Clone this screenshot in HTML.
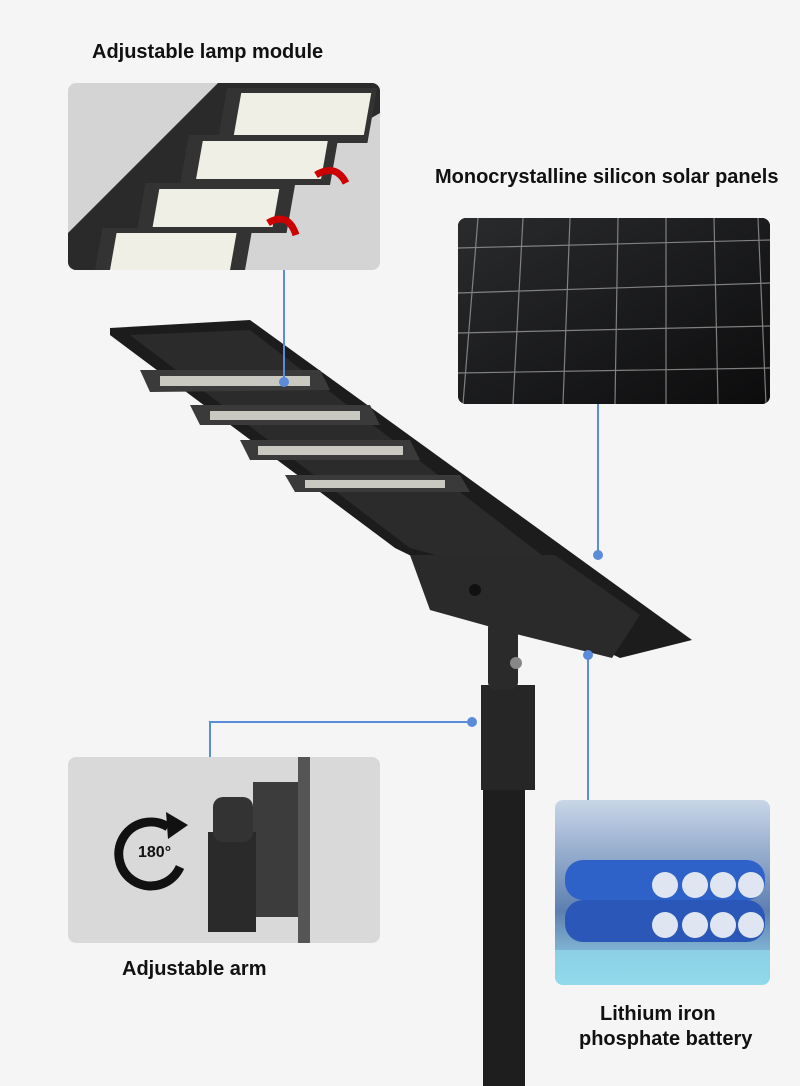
<!DOCTYPE html>
<html><head><meta charset="utf-8"><style>
body{margin:0;width:800px;height:1086px;background:#f5f5f5;overflow:hidden;position:relative;font-family:"Liberation Sans",sans-serif}
.t{position:absolute;font-weight:bold;font-size:20px;color:#111;white-space:nowrap}
.box{position:absolute;border-radius:8px;overflow:hidden}
</style></head><body>
<div class="t" style="left:92px;top:41px">Adjustable lamp module</div>
<div class="t" style="left:435px;top:166px">Monocrystalline silicon solar panels</div>
<div class="t" style="left:122px;top:958px">Adjustable arm</div>
<div class="t" style="left:600px;top:1003px">Lithium iron</div>
<div class="t" style="left:579px;top:1028px">phosphate battery</div>

<!-- lamp module inset -->
<div class="box" style="left:68px;top:83px;width:312px;height:187px;background:#d4d4d4">
<svg width="312" height="187">
<polygon points="0,150 150,0 312,0 312,30 40,187 0,187" fill="#2a2a2a"/>
<g fill="#333">
<rect x="160" y="5" width="150" height="55" transform="skewX(-10)"/>
<rect x="130" y="52" width="150" height="50" transform="skewX(-10)"/>
<rect x="95" y="100" width="150" height="50" transform="skewX(-10)"/>
<rect x="60" y="145" width="150" height="45" transform="skewX(-10)"/>
</g>
<g fill="#f0efe6">
<rect x="175" y="10" width="130" height="42" transform="skewX(-10)"/>
<rect x="145" y="58" width="125" height="38" transform="skewX(-10)"/>
<rect x="110" y="106" width="120" height="38" transform="skewX(-10)"/>
<rect x="75" y="150" width="120" height="37" transform="skewX(-10)"/>
</g>
<path d="M248 92 q20 -12 30 8" stroke="#c00" stroke-width="7" fill="none"/>
<path d="M200 140 q20 -12 28 12" stroke="#c00" stroke-width="7" fill="none"/>
</svg></div>

<!-- solar inset -->
<div class="box" style="left:458px;top:218px;width:312px;height:186px;background:#151617">
<svg width="312" height="186">
<defs><linearGradient id="g" x1="0" y1="0" x2="1" y2="1"><stop offset="0" stop-color="#2a2b2d"/><stop offset="1" stop-color="#0c0c0d"/></linearGradient></defs>
<rect width="312" height="186" fill="url(#g)"/>
<g stroke="#9a9a9a" stroke-width="1.2" opacity=".8">
<line x1="0" y1="30" x2="312" y2="22"/><line x1="0" y1="75" x2="312" y2="65"/><line x1="0" y1="115" x2="312" y2="108"/><line x1="0" y1="155" x2="312" y2="150"/>
<line x1="20" y1="0" x2="5" y2="186"/><line x1="65" y1="0" x2="55" y2="186"/><line x1="112" y1="0" x2="105" y2="186"/><line x1="160" y1="0" x2="157" y2="186"/><line x1="208" y1="0" x2="208" y2="186"/><line x1="256" y1="0" x2="260" y2="186"/><line x1="300" y1="0" x2="308" y2="186"/>
</g></svg></div>

<!-- main lamp -->
<svg style="position:absolute;left:0;top:0" width="800" height="1086">
<rect x="483" y="700" width="42" height="386" fill="#1e1e1e"/>
<rect x="481" y="685" width="54" height="105" fill="#262626"/>
<rect x="488" y="620" width="30" height="70" rx="8" fill="#2a2a2a"/>
<circle cx="516" cy="663" r="6" fill="#888"/>
<polygon points="110,328 250,320 692,640 620,658 395,548 110,335" fill="#1c1c1c"/>
<polygon points="130,335 250,330 600,600 410,548" fill="#2b2b2b"/>
<polygon points="410,555 555,555 640,615 612,658 520,635 430,610" fill="#2a2a2a"/>
<circle cx="475" cy="590" r="6" fill="#111"/>
<g fill="#3a3a3a">
<polygon points="140,370 320,370 330,390 150,392"/>
<polygon points="190,405 370,405 380,425 200,425"/>
<polygon points="240,440 410,440 420,460 250,460"/>
<polygon points="285,475 460,475 470,492 295,492"/>
</g>
<g fill="#c9c9c2"><rect x="160" y="376" width="150" height="10"/><rect x="210" y="411" width="150" height="9"/><rect x="258" y="446" width="145" height="9"/><rect x="305" y="480" width="140" height="8"/></g>
<g stroke="#5b8cd9" stroke-width="2" fill="none">
<path d="M284 270 V382"/><path d="M598 404 V555"/><path d="M588 655 V800"/><path d="M472 722 H210 V757"/></g>
<g fill="#5b8cd9"><circle cx="284" cy="382" r="5"/><circle cx="598" cy="555" r="5"/><circle cx="588" cy="655" r="5"/><circle cx="472" cy="722" r="5"/></g>
</svg>

<!-- arm inset -->
<div class="box" style="left:68px;top:757px;width:312px;height:186px;background:#d9d9d9">
<svg width="312" height="186">
<rect x="230" y="0" width="12" height="186" fill="#555"/>
<rect x="185" y="25" width="45" height="135" fill="#3c3c3c"/>
<rect x="140" y="75" width="48" height="100" fill="#2a2a2a"/>
<rect x="145" y="40" width="40" height="45" rx="10" fill="#333"/>
<path d="M100 70 A32 32 0 1 0 112 110" stroke="#111" stroke-width="9" fill="none"/>
<polygon points="98,55 120,68 100,82" fill="#111"/>
<text x="70" y="100" font-family="Liberation Sans,sans-serif" font-weight="bold" font-size="16" fill="#111">180°</text>
</svg></div>

<!-- battery inset -->
<div class="box" style="left:555px;top:800px;width:215px;height:185px;background:linear-gradient(#c9d6e8,#5d7fb0 60%,#9ee0f0)">
<svg width="215" height="185">
<rect x="10" y="60" width="200" height="40" rx="18" fill="#2f62c8"/>
<rect x="10" y="100" width="200" height="42" rx="18" fill="#2b58b8"/>
<g fill="#dfe6f2"><circle cx="110" cy="85" r="13"/><circle cx="140" cy="85" r="13"/><circle cx="168" cy="85" r="13"/><circle cx="196" cy="85" r="13"/><circle cx="110" cy="125" r="13"/><circle cx="140" cy="125" r="13"/><circle cx="168" cy="125" r="13"/><circle cx="196" cy="125" r="13"/></g>
<rect x="0" y="150" width="215" height="35" fill="#8fd7ea" opacity=".8"/>
</svg></div>
</body></html>
